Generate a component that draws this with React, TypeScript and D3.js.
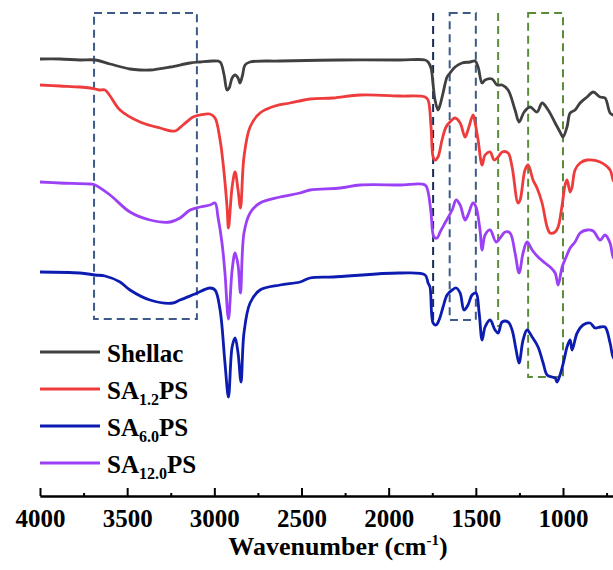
import React, { useEffect, useRef } from 'react';
import * as d3 from 'd3';

// FTIR spectra, [wavenumber, transmittance (a.u., offset)]
const shellac: [number, number][] = [
  [4000, 441], [3885, 441], [3771, 440], [3684, 440], [3598, 436], [3484, 431], [3426, 430], [3369, 430],
  [3254, 433], [3139, 437], [3082, 438], [3007, 439], [2967, 438], [2944, 425], [2927, 410], [2915, 412],
  [2898, 422], [2881, 425], [2864, 422], [2853, 417], [2838, 425], [2824, 435], [2795, 438], [2623, 439],
  [2279, 440], [1935, 440], [1791, 440], [1774, 438], [1757, 432], [1745, 415], [1734, 400], [1717, 390],
  [1705, 395], [1688, 407], [1665, 423], [1648, 427], [1619, 433], [1579, 437], [1533, 438], [1504, 439],
  [1487, 433], [1464, 417], [1447, 420], [1407, 421], [1378, 415], [1349, 415], [1315, 410], [1275, 390],
  [1252, 378], [1223, 388], [1189, 393], [1149, 388], [1120, 397], [1085, 390], [1045, 377], [1017, 368],
  [1000, 363], [977, 373], [959, 387], [931, 390], [902, 397], [862, 403], [827, 408], [787, 403],
  [759, 402], [730, 387], [713, 385], [700, 383]
];

const sa12: [number, number][] = [
  [4000, 415], [3885, 414], [3771, 413], [3713, 412], [3684, 411], [3656, 410], [3627, 410], [3598, 404],
  [3541, 390], [3426, 378], [3312, 372], [3225, 369], [3180, 375], [3122, 383], [3082, 385], [3025, 386],
  [2996, 382], [2967, 360], [2944, 327], [2927, 293], [2919, 272], [2898, 313], [2881, 328], [2864, 310],
  [2850, 292], [2830, 343], [2795, 373], [2738, 387], [2652, 394], [2566, 397], [2451, 401], [2319, 402],
  [2164, 405], [1935, 404], [1791, 403], [1774, 400], [1757, 373], [1745, 343], [1734, 340], [1717, 343],
  [1694, 360], [1671, 373], [1648, 378], [1619, 382], [1590, 377], [1562, 363], [1545, 370], [1516, 385],
  [1504, 377], [1487, 360], [1464, 335], [1447, 345], [1418, 348], [1395, 340], [1372, 343], [1349, 348],
  [1315, 347], [1292, 333], [1258, 297], [1246, 300], [1218, 330], [1200, 335], [1172, 320], [1149, 312],
  [1120, 297], [1091, 273], [1074, 267], [1045, 268], [1028, 273], [1005, 295], [988, 315], [977, 320],
  [959, 308], [948, 313], [931, 330], [902, 337], [862, 340], [787, 338], [730, 330], [713, 320], [700, 317]
];

const sa60: [number, number][] = [
  [4000, 228], [3771, 227], [3684, 225], [3627, 224], [3541, 218], [3484, 210], [3369, 200], [3237, 197],
  [3197, 200], [3111, 206], [3025, 212], [2996, 210], [2967, 190], [2939, 137], [2919, 103], [2898, 153],
  [2881, 162], [2864, 147], [2847, 118], [2830, 167], [2795, 197], [2738, 210], [2623, 215], [2508, 218],
  [2451, 222], [2319, 223], [1935, 227], [1791, 225], [1774, 217], [1763, 213], [1745, 177], [1728, 175],
  [1711, 180], [1688, 193], [1665, 205], [1636, 210], [1613, 212], [1590, 207], [1568, 190], [1545, 195],
  [1522, 205], [1499, 207], [1481, 187], [1464, 160], [1447, 173], [1418, 180], [1390, 170], [1372, 167],
  [1349, 178], [1315, 178], [1292, 170], [1269, 150], [1252, 137], [1229, 160], [1206, 170], [1177, 163],
  [1143, 153], [1114, 137], [1091, 125], [1063, 123], [1045, 122], [1034, 118], [1017, 125], [994, 140],
  [977, 153], [959, 160], [948, 150], [919, 167], [885, 175], [845, 177], [816, 172], [787, 173],
  [759, 173], [730, 157], [713, 143], [700, 140]
];

const sa120: [number, number][] = [
  [4000, 318], [3885, 317], [3713, 316], [3684, 315], [3598, 305], [3484, 288], [3369, 280], [3254, 278],
  [3197, 282], [3139, 290], [3082, 293], [3025, 295], [2996, 297], [2979, 283], [2956, 257], [2939, 227],
  [2919, 181], [2898, 230], [2881, 247], [2864, 235], [2850, 207], [2830, 267], [2795, 287], [2738, 297],
  [2623, 303], [2508, 307], [2451, 310], [2279, 312], [2164, 315], [1935, 315], [1791, 315], [1774, 308],
  [1757, 287], [1740, 263], [1722, 262], [1705, 268], [1677, 277], [1636, 290], [1613, 300], [1590, 295],
  [1562, 280], [1545, 285], [1516, 297], [1499, 293], [1476, 270], [1464, 250], [1447, 265], [1418, 270],
  [1384, 258], [1361, 262], [1332, 268], [1304, 267], [1275, 247], [1252, 227], [1229, 247], [1206, 258],
  [1177, 250], [1143, 243], [1103, 237], [1074, 233], [1045, 227], [1028, 215], [1005, 233], [982, 243],
  [959, 252], [931, 258], [902, 267], [862, 270], [827, 269], [787, 260], [759, 265], [730, 257],
  [713, 243], [700, 240]
];

const seriesNames = ['Shellac', 'SA1.2PS', 'SA6.0PS', 'SA12.0PS'];
const seriesData = [shellac, sa12, sa60, sa120];
const seriesColors = ['#404040', '#ee3b3b', '#0c1bb0', '#9b40f5'];
// legend subscript parts
const legendParts = [['Shellac', '', ''], ['SA', '1.2', 'PS'], ['SA', '6.0', 'PS'], ['SA', '12.0', 'PS']];

const majorTicks = [4000, 3500, 3000, 2500, 2000, 1500, 1000];
const minorTicks = [3750, 3250, 2750, 2250, 1750, 1250, 750];

// dashed annotation regions (wavenumber span, top/bottom in data units); single lines have equal ends
const boxes = [
  { x0: 3690, x1: 3100, top: 487, bottom: 181, color: '#3e5a88', box: true },
  { x0: 1745, x1: 1745, top: 487, bottom: 175, color: '#1a2a55', box: false },
  { x0: 1650, x1: 1500, top: 487, bottom: 180, color: '#3e5a88', box: true },
  { x0: 1372, x1: 1372, top: 487, bottom: 173, color: '#5b8c3a', box: false },
  { x0: 1200, x1: 1000, top: 487, bottom: 123, color: '#5b8c3a', box: true }
];

const W = 613;
const H = 570;
const FONT = '"Liberation Serif", "Times New Roman", serif';

const App = () => {
  const ref = useRef<SVGSVGElement | null>(null);

  useEffect(() => {
    if (!ref.current) return;
    const svg = d3.select(ref.current);
    svg.selectAll('*').remove();

    const x = d3.scaleLinear().domain([4000, 400]).range([40, 40 + 3600 * (523 / 3000)]);
    const y = d3.scaleLinear().domain([0, 500]).range([500, 0]);
    const axisY = 496;

    // annotations
    const ann = svg.append('g').attr('fill', 'none').attr('stroke-width', 2).attr('stroke-dasharray', '8,5');
    boxes.forEach(b => {
      if (b.box) {
        ann.append('rect')
          .attr('x', x(b.x0))
          .attr('y', y(b.top))
          .attr('width', x(b.x1) - x(b.x0))
          .attr('height', y(b.bottom) - y(b.top))
          .attr('stroke', b.color);
      } else {
        ann.append('line')
          .attr('x1', x(b.x0)).attr('x2', x(b.x0))
          .attr('y1', y(b.top)).attr('y2', y(b.bottom))
          .attr('stroke', b.color);
      }
    });

    const line = d3.line<[number, number]>()
      .x(d => x(d[0]))
      .y(d => y(d[1]))
      .curve(d3.curveCatmullRom.alpha(0.5));

    seriesData.forEach((s, i) => {
      svg.append('path')
        .datum(s)
        .attr('d', line)
        .attr('fill', 'none')
        .attr('stroke', seriesColors[i])
        .attr('stroke-width', 2.8)
        .attr('stroke-linejoin', 'round');
    });

    // x axis, ticks pointing inward
    const gx = svg.append('g').attr('transform', `translate(0,${axisY})`);
    gx.call(d3.axisBottom(x).tickValues(majorTicks).tickSize(-8).tickSizeOuter(0).tickPadding(13).tickFormat(d3.format('d')));
    gx.append('g').call(d3.axisBottom(x).tickValues(minorTicks).tickSize(-3).tickSizeOuter(0).tickFormat(() => ''));
    gx.selectAll('path.domain').attr('stroke', '#000').attr('stroke-width', 2);
    gx.selectAll('.tick line').attr('stroke', '#000').attr('stroke-width', 2);
    gx.selectAll('.tick text')
      .attr('fill', '#000')
      .style('font-family', FONT)
      .style('font-weight', 'bold')
      .style('font-size', '25px');

    // axis title
    const title = svg.append('text')
      .attr('x', 338)
      .attr('y', 555)
      .attr('text-anchor', 'middle')
      .style('font-family', FONT)
      .style('font-weight', 'bold')
      .style('font-size', '26px');
    title.append('tspan').text('Wavenumber (cm');
    title.append('tspan').attr('dy', -10).style('font-size', '15px').text('-1');
    title.append('tspan').attr('dy', 10).text(')');

    // legend
    const legendY = [352, 389, 426, 463];
    seriesNames.forEach((name, i) => {
      const g = svg.append('g').attr('class', 'legend-item');
      g.append('line')
        .attr('x1', 40).attr('x2', 100)
        .attr('y1', legendY[i]).attr('y2', legendY[i])
        .attr('stroke', seriesColors[i])
        .attr('stroke-width', 2.8);
      const t = g.append('text')
        .attr('x', 107)
        .attr('y', legendY[i] + 10)
        .style('font-family', FONT)
        .style('font-weight', 'bold')
        .style('font-size', '25px');
      const [a, sub, b] = legendParts[i];
      t.append('tspan').text(a);
      if (sub) {
        t.append('tspan').attr('dy', 6).style('font-size', '16px').text(sub);
        t.append('tspan').attr('dy', -6).text(b);
      }
    });
  }, []);

  return (
    <svg
      ref={ref}
      width={W}
      height={H}
      style={{ position: 'absolute', left: 0, top: 0, background: '#fff' }}
    />
  );
};

export default App;
